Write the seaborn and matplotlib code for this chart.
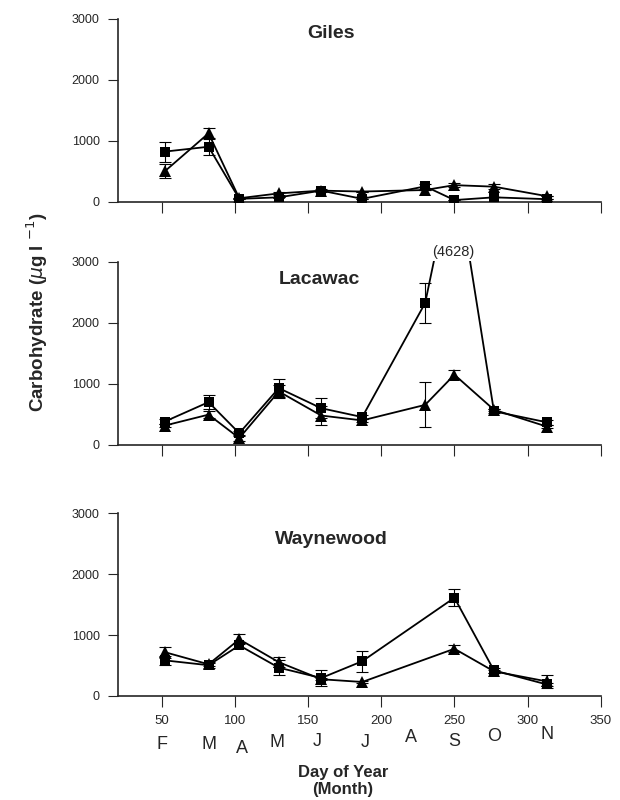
import matplotlib
matplotlib.use("Agg")
import matplotlib.pyplot as plt
from matplotlib.transforms import offset_copy
import numpy as np
import pandas as pd
import seaborn as sns

# sampling days and values
days_gl = [52, 82, 103, 130, 159, 187, 230, 250, 277, 313]
giles_sq = [820, 900, 45, 70, 180, 45, 250, 25, 70, 40]
giles_sq_err = [165, 140, 0, 0, 30, 0, 40, 0, 0, 0]
giles_tri = [495, 1120, 55, 135, 180, 165, 190, 270, 245, 90]
giles_tri_err = [115, 90, 0, 30, 0, 0, 0, 30, 40, 0]

lacawac_sq = [380, 700, 190, 930, 600, 455, 2326, 4628, 550, 370]
lacawac_sq_err = [40, 120, 30, 150, 165, 30, 330, 0, 30, 40]
lacawac_tri = [315, 495, 110, 875, 480, 400, 655, 1150, 575, 300]
lacawac_tri_err = [30, 60, 40, 100, 150, 20, 370, 70, 20, 30]

days_w = [52, 82, 103, 130, 159, 187, 250, 277, 313]
wayne_sq = [585, 505, 830, 465, 295, 570, 1612, 420, 190]
wayne_sq_err = [75, 40, 40, 120, 130, 170, 140, 40, 30]
wayne_tri = [720, 520, 930, 555, 275, 230, 775, 405, 240]
wayne_tri_err = [90, 30, 80, 80, 20, 20, 60, 20, 110]

lakes = ["Giles", "Lacawac", "Waynewood"]
months = ["F", "M", "A", "M", "J", "J", "A", "S", "O", "N"]
month_days = [50, 82, 105, 129, 156, 189, 220, 250, 277, 313]
month_dy = [0, 0, -4, 2, 3, 2, 7, 3, 8, 10]   # hand placed letters (px)
title_pos = [(166, 2750), (158, 2720), (166, 2560)]

sns.set_theme(style="ticks")
plt.rcParams['font.family'] = ['Liberation Sans', 'DejaVu Sans']

rows = []
series = {
    "Giles": (days_gl, giles_sq, giles_sq_err, giles_tri, giles_tri_err),
    "Lacawac": (days_gl, lacawac_sq, lacawac_sq_err, lacawac_tri, lacawac_tri_err),
    "Waynewood": (days_w, wayne_sq, wayne_sq_err, wayne_tri, wayne_tri_err),
}
for lake, (d, sq, sqe, tr, tre) in series.items():
    for i in range(len(d)):
        rows.append(dict(lake=lake, day=d[i], kind="sq", val=sq[i], err=sqe[i]))
        rows.append(dict(lake=lake, day=d[i], kind="tri", val=tr[i], err=tre[i]))
df = pd.DataFrame(rows)

fig = plt.figure(figsize=(6.2, 8), dpi=100)
ytop = 3150
bottoms = [0.748, 0.444, 0.130]
axes = [fig.add_axes([0.19, b, 0.779, 0.24]) for b in bottoms]

for ax, lake, (tx, ty) in zip(axes, lakes, title_pos):
    sub = df[df.lake == lake]
    for kind, mk, ms in [("tri", "^", 8), ("sq", "s", 7)]:
        s = sub[sub.kind == kind]
        ax.errorbar(s.day, s.val, yerr=s.err, fmt="none", ecolor="black",
                    elinewidth=0.8, capsize=4, capthick=0.8, zorder=2)
        sns.lineplot(data=s, x="day", y="val", ax=ax, color="black",
                     marker=mk, markersize=ms, markeredgewidth=0,
                     linewidth=1.3, zorder=3, legend=False)
    ax.set_xlim(20, 350)
    ax.set_ylim(0, ytop)
    ax.set_yticks([0, 1000, 2000, 3000])
    ax.set_xticks([50, 100, 150, 200, 250, 300, 350])
    ax.spines["left"].set_bounds(0, 3000)
    ax.spines["top"].set_visible(False)
    ax.spines["right"].set_visible(False)
    for sp in ("left", "bottom"):
        ax.spines[sp].set_linewidth(1.2)
    ax.tick_params(axis="y", direction="out", length=7, width=0.8,
                   labelsize=9, pad=6)
    ax.tick_params(axis="x", direction="out", length=8, width=0.8,
                   labelsize=9.5, pad=6)
    ax.set_xlabel("")
    ax.set_ylabel("")
    ax.text(tx, ty, lake, ha="center", va="center", fontsize=14,
            fontweight="bold")
    if lake != "Waynewood":
        ax.set_xticklabels([])

axes[1].text(249, 3160, "(4628)", ha="center", va="center", fontsize=10.5,
             bbox=dict(facecolor="white", edgecolor="none", pad=1.5), zorder=5)

# month letters under the bottom axis
ax = axes[2]
for m, d, dy in zip(months, month_days, month_dy):
    tr = offset_copy(ax.get_xaxis_transform(), fig=fig, x=0, y=dy, units="dots")
    ax.text(d, -0.255, m, transform=tr, ha="center", va="center", fontsize=13)

fig.text(0.553, 0.034, "Day of Year", ha="center", va="center",
         fontsize=12, fontweight="bold")
fig.text(0.553, 0.013, "(Month)", ha="center", va="center",
         fontsize=12, fontweight="bold")
fig.text(0.06, 0.61, r"Carbohydrate ($\mu$g l $^{-1}$)", rotation=90,
         ha="center", va="center", fontsize=13.5, fontweight="bold")

fig.savefig("out.png", dpi=100, facecolor="white")
